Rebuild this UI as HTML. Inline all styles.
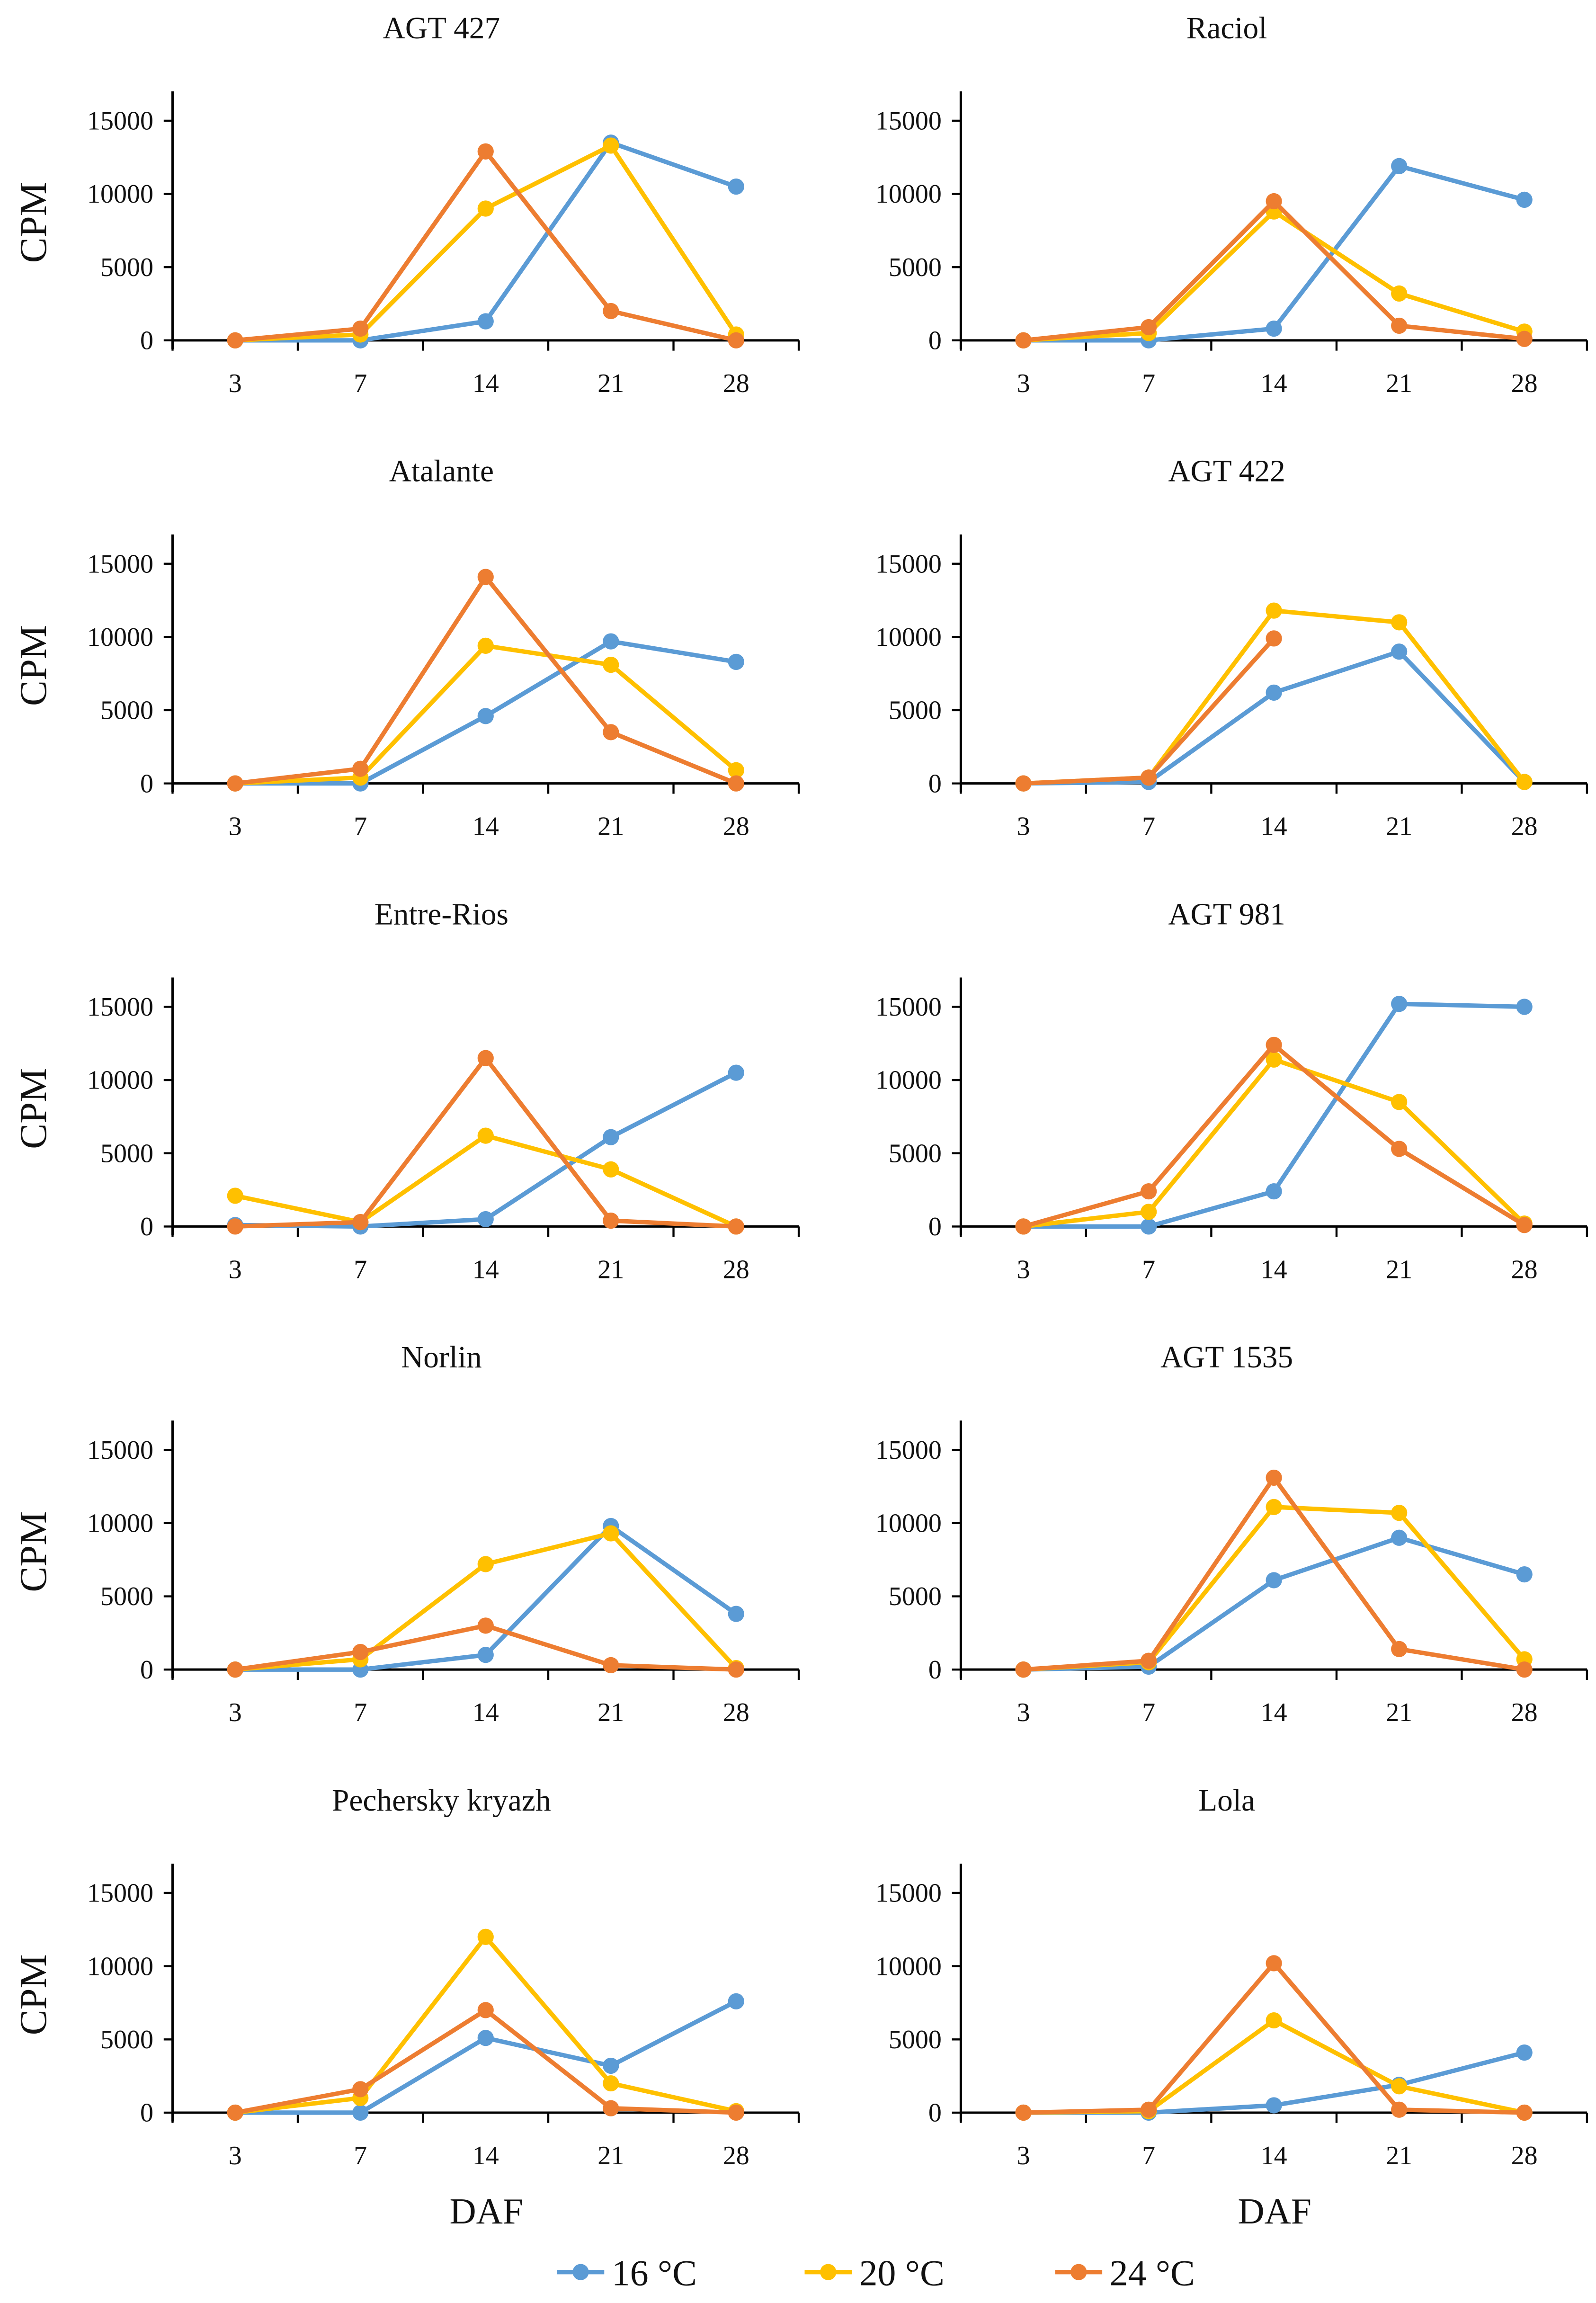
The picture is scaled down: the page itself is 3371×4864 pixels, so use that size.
<!DOCTYPE html>
<html><head><meta charset="utf-8"><style>
html,body{margin:0;padding:0;background:#fff}
svg{display:block}
text{font-family:"Liberation Serif",serif;fill:#111}
</style></head><body>
<svg id="chart" width="3371" height="4864" viewBox="0 0 1083 1563" xmlns="http://www.w3.org/2000/svg"></svg>
<script>
const categories = ["3","7","14","21","28"];
const yTicks = [0,5000,10000,15000];
const titles = ["AGT 427","Raciol","Atalante","AGT 422","Entre-Rios","AGT 981","Norlin","AGT 1535","Pechersky kryazh","Lola"];
const seriesNames = ["16 °C","20 °C","24 °C"];
const blue16 = [
 [0,0,1300,13500,10500],[0,0,800,11900,9600],[0,0,4600,9700,8300],[0,100,6200,9000,100],
 [100,0,500,6100,10500],[0,0,2400,15200,15000],[0,0,1000,9800,3800],[0,200,6100,9000,6500],
 [0,0,5100,3200,7600],[0,0,500,1900,4100]];
const yellow20 = [
 [0,400,9000,13300,400],[0,500,8800,3200,600],[0,400,9400,8100,900],[0,400,11800,11000,100],
 [2100,300,6200,3900,0],[0,1000,11400,8500,200],[0,700,7200,9300,100],[0,500,11100,10700,700],
 [0,1000,12000,2000,100],[0,100,6300,1800,0]];
const orange24 = [
 [0,800,12900,2000,0],[0,900,9500,1000,100],[0,1000,14100,3500,0],[0,400,9900,null,null],
 [0,300,11500,400,0],[0,2400,12400,5300,100],[0,1200,3000,300,0],[0,600,13100,1400,0],
 [0,1600,7000,300,0],[0,200,10200,200,0]];
const colors = ["#5B9BD5","#FFC000","#ED7D31"];
const yMax = 17000;

const NS="http://www.w3.org/2000/svg";
const svg=document.getElementById('chart');
function mk(tag,attrs,parent){const e=document.createElementNS(NS,tag);for(const k in attrs)e.setAttribute(k,attrs[k]);(parent||svg).appendChild(e);return e;}

const band=85, plotW=425, zeroScale=49.7/5000;
for(let p=0;p<10;p++){
  const col=p%2,row=Math.floor(p/2);
  const x0=col?652:117, y0=231+row*300.7;
  const xS=i=>x0+band*(i+0.5);
  const yS=v=>y0-v*zeroScale;
  const g=mk('g',{});
  
  
  const t=mk('text',{x:x0+plotW/2-30+ (col?-2:0),y:y0-205,'text-anchor':'middle','font-size':21},g);
  
  
  t.textContent=titles[p];
  const ya=mk('line',{x1:x0,y1:yS(yMax),x2:x0,y2:y0+6,stroke:'#000','stroke-width':1.6},g);
  
  
  yTicks.forEach(v=>{
    mk('line',{x1:x0-6,y1:yS(v),x2:x0,y2:yS(v),stroke:'#000','stroke-width':1.4},g);
    const tl=mk('text',{x:x0-13,y:yS(v)+6,'text-anchor':'end','font-size':18},g);
    
    
    tl.textContent=v;
  });
  const xa=mk('line',{x1:x0,y1:y0,x2:x0+plotW,y2:y0,stroke:'#000','stroke-width':1.6},g);
  
  
  for(let i=0;i<=categories.length;i++) mk('line',{x1:x0+band*i,y1:y0,x2:x0+band*i,y2:y0+7,stroke:'#000','stroke-width':1.4},g);
  categories.forEach((c,i)=>{
    const tl=mk('text',{x:xS(i),y:y0+35,'text-anchor':'middle','font-size':18},g);
    
    
    tl.textContent=c;
  });
  if(col===0){
    const cp=mk('text',{x:0,y:0,'text-anchor':'middle','font-size':26,transform:`translate(31,${y0-80}) rotate(-90)`},g);
    
    
    cp.textContent='CPM';
  }
  [blue16[p],yellow20[p],orange24[p]].forEach((d,s)=>{
    const pts=[];d.forEach((v,i)=>{if(v!==null)pts.push(xS(i)+','+yS(v));});
    const pl=mk('polyline',{points:pts.join(' '),fill:'none',stroke:colors[s],'stroke-width':3,'stroke-linejoin':'round'},g);
    
    
    d.forEach((v,i)=>{if(v===null)return;
      const c=mk('circle',{cx:xS(i),cy:yS(v),r:5.5,fill:colors[s]},g);
      
      
    });
  });
}
[330,865].forEach(x=>{
  const d=mk('text',{x:x,y:1509,'text-anchor':'middle','font-size':25});
  
  
  d.textContent='DAF';
});
const lx=[378,546,716];
seriesNames.forEach((n,s)=>{
  const g=mk('g',{});
  
  
  mk('line',{x1:lx[s],y1:1542,x2:lx[s]+32,y2:1542,stroke:colors[s],'stroke-width':3},g);
  mk('circle',{cx:lx[s]+16,cy:1542,r:5.5,fill:colors[s]},g);
  const t=mk('text',{x:lx[s]+37,y:1551,'font-size':25},g);
  t.textContent=n;
});
</script>
</body></html>
